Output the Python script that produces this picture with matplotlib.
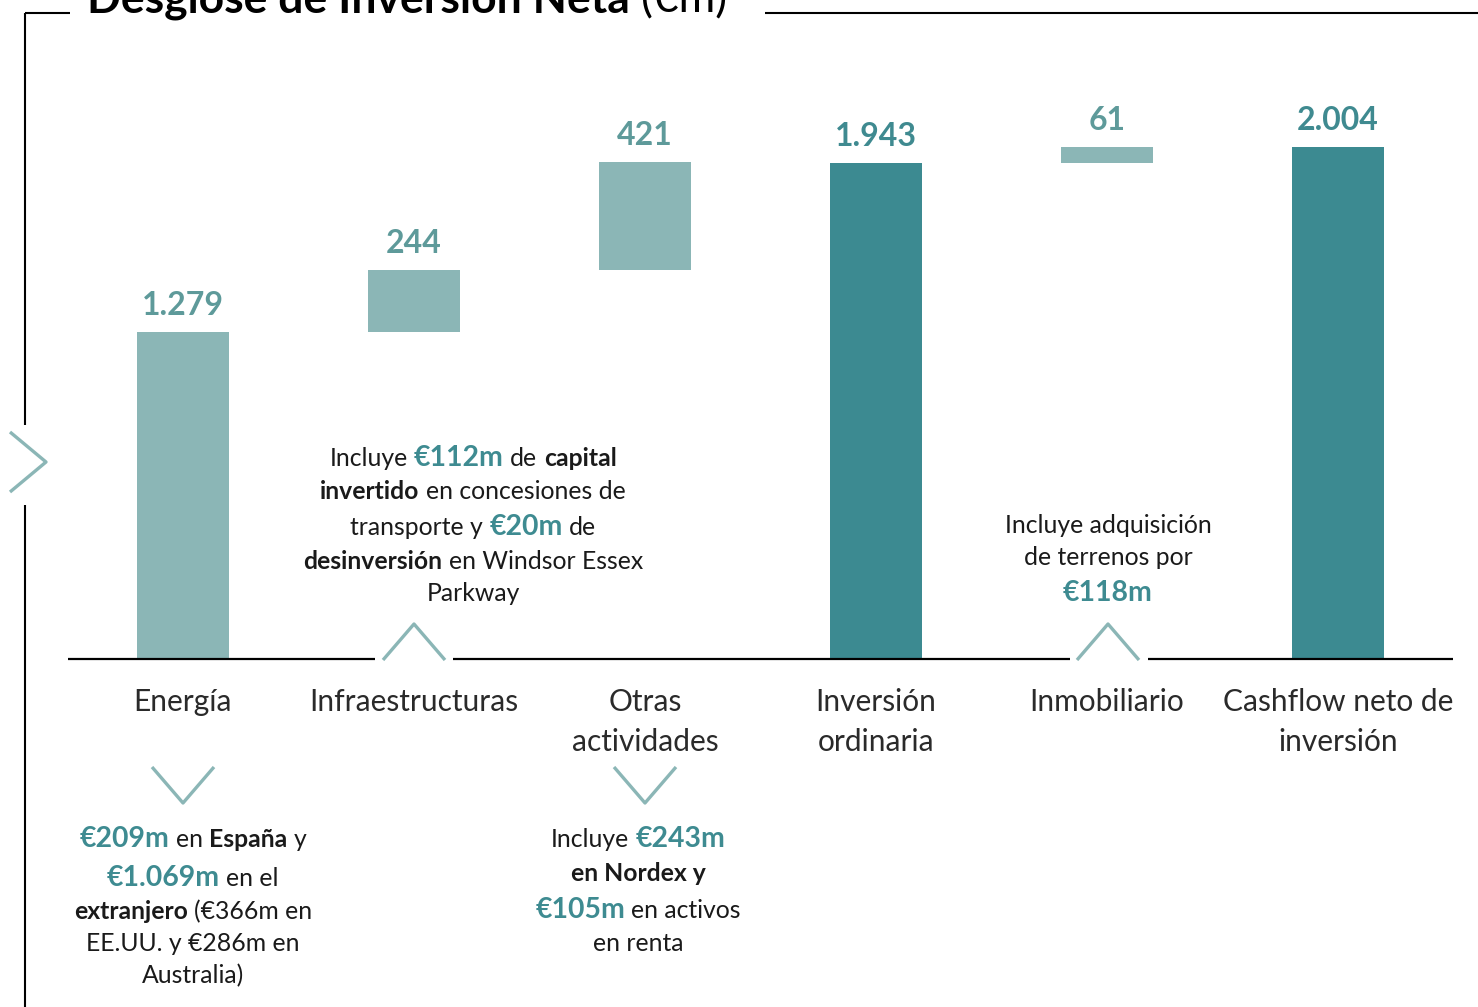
import matplotlib
matplotlib.use("Agg")
import matplotlib.pyplot as plt

plt.rcParams['font.family'] = ['Lato', 'DejaVu Sans']

# data
categories = ['Energía', 'Infraestructuras', 'Otras\nactividades', 'Inversión\nordinaria',
              'Inmobiliario', 'Cashflow neto de\ninversión']
values = [1279, 244, 421, 1943, 61, 2004]
value_labels = ['1.279', '244', '421', '1.943', '61', '2.004']
is_total = [False, False, False, True, False, True]

LIGHT = '#8BB6B6'
DARK = '#3C8A91'
HILITE = '#3E8B91'
TXT = '#1a1a1a'

W, H = 1478, 1007
fig = plt.figure(figsize=(W / 100, H / 100), dpi=100)
ax = fig.add_axes([0, 0, 1, 1])
ax.set_xlim(-0.792, 5.606)
ax.set_ylim(-1362, 2579)
ax.axis('off')


def P(x, y):
    # pixel position (from top-left) -> figure fraction
    return x / W, 1 - y / H


def pline(xs, ys, **kw):
    fx = [x / W for x in xs]
    fy = [1 - y / H for y in ys]
    ax.plot(fx, fy, transform=fig.transFigure, clip_on=False, solid_capstyle='butt', **kw)


# waterfall bars
running = 0
for i, (v, tot) in enumerate(zip(values, is_total)):
    bottom = 0 if tot else running
    color = DARK if tot else LIGHT
    ax.bar(i, v, bottom=bottom, width=0.40, color=color, zorder=2)
    running = v if tot else running + v
    ax.annotate(value_labels[i], (i, bottom + v), xytext=(0, 19), textcoords='offset points',
                ha='center', va='center', fontsize=23, fontweight='bold',
                color='#3F8A90' if tot else '#5E9A9A')
    ax.annotate(categories[i], (i, 0), xytext=(0, -21), textcoords='offset points',
                ha='center', va='top', fontsize=21.5, color='#2a2a2a', linespacing=1.5)

# baseline with gaps for the arrows
pline([68, 375], [659, 659], color='black', lw=1.6)
pline([453, 1070], [659, 659], color='black', lw=1.6)
pline([1148, 1453], [659, 659], color='black', lw=1.6)

# chevrons
for cx in (414, 1108):
    pline([cx - 31, cx, cx + 31], [660, 624, 660], color=LIGHT, lw=2.4)
for cx in (183, 645):
    pline([cx - 31, cx, cx + 31], [767, 803, 767], color=LIGHT, lw=2.4)
pline([10, 46, 10], [432, 462, 492], color=LIGHT, lw=2.4)

# frame
pline([25, 70], [13, 13], color='black', lw=1.5)
pline([765, 1478], [13, 13], color='black', lw=1.5)
pline([25, 25], [13, 425], color='black', lw=1.5)
pline([25, 25], [505, 1007], color='black', lw=1.5)

renderer = fig.canvas.get_renderer()


def rich_line(cx, base_y, segs, size=17.8, color=TXT):
    arts = []
    for s, style in segs:
        kw = dict(fontsize=size, color=color, fontweight='normal')
        if style == 'b':
            kw['fontweight'] = 'bold'
        elif style == 'h':
            kw.update(fontweight='bold', color=HILITE, fontsize=size * 1.15)
        arts.append(fig.text(0, 0, s, va='baseline', ha='left', **kw))
    probe_a = fig.text(0, 0, 'xx', fontsize=size)
    probe_b = fig.text(0, 0, 'x x', fontsize=size)
    gap = probe_b.get_window_extent(renderer).width - probe_a.get_window_extent(renderer).width
    probe_a.remove()
    probe_b.remove()
    widths = [a.get_window_extent(renderer).width for a in arts]
    total = sum(widths) + gap * (len(arts) - 1)
    x = cx - total / 2
    for a, w in zip(arts, widths):
        a.set_position(P(x, base_y))
        x += w + gap


# infraestructuras note
rich_line(473, 466, [('Incluye', 'n'), ('€112m', 'h'), ('de', 'n'), ('capital', 'b')])
rich_line(473, 499, [('invertido', 'b'), ('en concesiones de', 'n')])
rich_line(473, 535, [('transporte y', 'n'), ('€20m', 'h'), ('de', 'n')])
rich_line(473, 569, [('desinversión', 'b'), ('en Windsor Essex', 'n')])
rich_line(473, 601, [('Parkway', 'n')])

# inmobiliario note
rich_line(1108, 533, [('Incluye adquisición', 'n')])
rich_line(1108, 565, [('de terrenos por', 'n')])
rich_line(1108, 601, [('€118m', 'h')])

# energia note
rich_line(193, 847, [('€209m', 'h'), ('en', 'n'), ('España', 'b'), ('y', 'n')])
rich_line(193, 886, [('€1.069m', 'h'), ('en el', 'n')])
rich_line(193, 919, [('extranjero', 'b'), ('(€366m en', 'n')])
rich_line(193, 951, [('EE.UU. y €286m en', 'n')])
rich_line(193, 983, [('Australia)', 'n')])

# otras actividades note
rich_line(638, 847, [('Incluye', 'n'), ('€243m', 'h')])
rich_line(638, 881, [('en Nordex y', 'b')])
rich_line(638, 918, [('€105m', 'h'), ('en activos', 'n')])
rich_line(638, 951, [('en renta', 'n')])

# title (cut at the top edge as in the reference)
rich_line(407, 12, [('Desglose de Inversión Neta', 'b'), ('(€m)', 'n')], size=32, color='black')

fig.savefig('out.png', dpi=100)
